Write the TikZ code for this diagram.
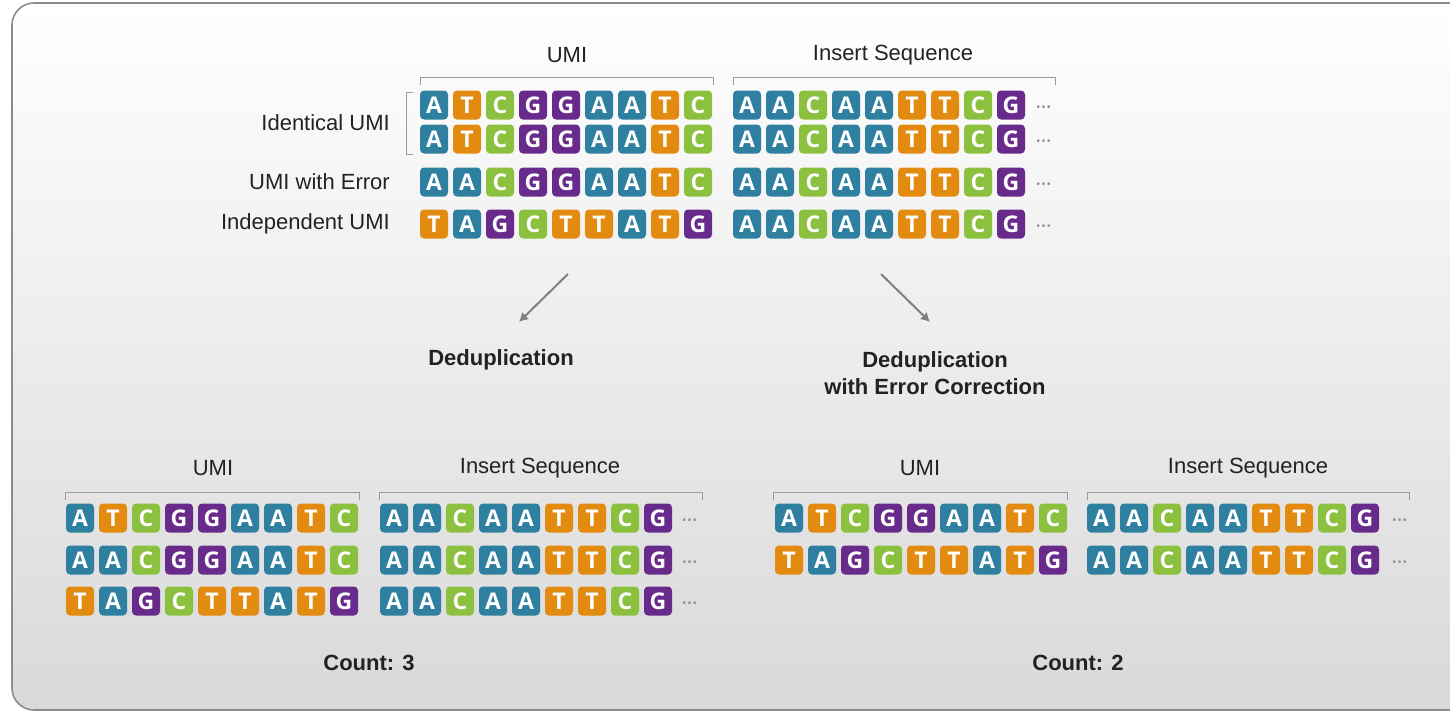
\documentclass[tikz,border=0pt]{standalone}
\usepackage{fontspec}
\setmainfont{Liberation Sans}
\newfontfamily\tilefont{Open Sans}
\usetikzlibrary{arrows.meta}
\definecolor{cA}{HTML}{2E7FA0}
\definecolor{cT}{HTML}{E38B10}
\definecolor{cC}{HTML}{8CC13F}
\definecolor{cG}{HTML}{682B8C}
\definecolor{txt}{HTML}{222222}
\definecolor{brk}{HTML}{9A9A9A}
\definecolor{dotc}{HTML}{8A8A8A}
\definecolor{arrc}{HTML}{808080}
\definecolor{bord}{HTML}{8C8C8C}
\definecolor{bgb}{HTML}{D9D9D9}
\tikzset{
  tile/.style={minimum width=28pt, minimum height=29pt, inner sep=0pt,
    rounded corners=4pt, text=white, font=\tilefont\bfseries\fontsize{23}{23}\selectfont},
  lbl/.style={font=\fontsize{22}{26}\selectfont, text=txt, inner sep=0pt},
  blbl/.style={font=\bfseries\fontsize{22}{27}\selectfont, text=txt, inner sep=0pt},
  brk/.style={draw=brk, line width=1pt},
  dotsnode/.style={text=dotc, font=\bfseries\fontsize{16}{16}\selectfont, inner sep=0pt, yshift=-4pt},
  arr/.style={draw=arrc, line width=2pt, -{Latex[length=9pt,width=10pt]}}
}
\newcommand\tilerow[4]{%
  \foreach \L [count=\i] in {#4}{%
    \node[tile, fill=c\L] (#1-\i) at ({#2+(\i-1)*33},{#3}) {\L};}%
}
\begin{document}
\begin{tikzpicture}[x=1pt,y=-1pt]
\useasboundingbox (0,0) rectangle (1450,712);
\shadedraw[top color=white, bottom color=bgb, draw=bord, line width=1.6pt, rounded corners=22pt]
  (12,3) rectangle (1490,710);

% ---------- top ----------
\node[lbl] (tumi) at (567,55) {UMI};
\node[lbl] (tins) at (893,55) {Insert Sequence};
\draw[brk] (420,85) -- (420,77) -- (713,77) -- (713,85);
\draw[brk] (733,85) -- (733,77) -- (1055,77) -- (1055,85);
\draw[brk] (413,92) -- (406,92) -- (406,154) -- (413,154);

\node[lbl, anchor=east] (lid) at (390,123) {Identical UMI};
\node[lbl, anchor=east] (ler) at (390,182) {UMI with Error};
\node[lbl, anchor=east] (lin) at (390,224) {Independent UMI};

\tilerow{ua}{434}{105}{A,T,C,G,G,A,A,T,C}
\tilerow{ub}{434}{139}{A,T,C,G,G,A,A,T,C}
\tilerow{uc}{434}{182}{A,A,C,G,G,A,A,T,C}
\tilerow{ud}{434}{224}{T,A,G,C,T,T,A,T,G}
\tilerow{ia}{747}{105}{A,A,C,A,A,T,T,C,G}
\tilerow{ib}{747}{139}{A,A,C,A,A,T,T,C,G}
\tilerow{ic}{747}{182}{A,A,C,A,A,T,T,C,G}
\tilerow{id}{747}{224}{A,A,C,A,A,T,T,C,G}
\node[dotsnode] (da) at (1044,105) {···};
\node[dotsnode] (db) at (1044,139) {···};
\node[dotsnode] (dc) at (1044,182) {···};
\node[dotsnode] (dd) at (1044,224) {···};

% ---------- arrows ----------
\coordinate (a1s) at (568,274);
\coordinate (a1e) at (519,322);
\coordinate (a2s) at (881,274);
\coordinate (a2e) at (930,322);
\draw[arr] (a1s) -- (a1e);
\draw[arr] (a2s) -- (a2e);

\node[blbl] (dedup) at (501,360) {Deduplication};
\node[blbl, align=center] (dedupec) at (935,373) {Deduplication\\with Error Correction};

% ---------- bottom left ----------
\node[lbl] (blumi) at (213,468) {UMI};
\node[lbl] (blins) at (540,468) {Insert Sequence};
\draw[brk] (65,500) -- (65,492) -- (359,492) -- (359,500);
\draw[brk] (379,500) -- (379,492) -- (702,492) -- (702,500);
\tilerow{la}{80}{518}{A,T,C,G,G,A,A,T,C}
\tilerow{lb}{80}{560}{A,A,C,G,G,A,A,T,C}
\tilerow{lc}{80}{601}{T,A,G,C,T,T,A,T,G}
\tilerow{lia}{394}{518}{A,A,C,A,A,T,T,C,G}
\tilerow{lib}{394}{560}{A,A,C,A,A,T,T,C,G}
\tilerow{lic}{394}{601}{A,A,C,A,A,T,T,C,G}
\node[dotsnode] (lda) at (690,518) {···};
\node[dotsnode] (ldb) at (690,560) {···};
\node[dotsnode] (ldc) at (690,601) {···};
\node[blbl] (cnt3) at (369,663) {Count: 3};

% ---------- bottom right ----------
\node[lbl] (brumi) at (920,468) {UMI};
\node[lbl] (brins) at (1248,468) {Insert Sequence};
\draw[brk] (773,500) -- (773,492) -- (1067,492) -- (1067,500);
\draw[brk] (1087,500) -- (1087,492) -- (1409,492) -- (1409,500);
\tilerow{ra}{789}{518}{A,T,C,G,G,A,A,T,C}
\tilerow{rb}{789}{560}{T,A,G,C,T,T,A,T,G}
\tilerow{ria}{1101}{518}{A,A,C,A,A,T,T,C,G}
\tilerow{rib}{1101}{560}{A,A,C,A,A,T,T,C,G}
\node[dotsnode] (rda) at (1400,518) {···};
\node[dotsnode] (rdb) at (1400,560) {···};
\node[blbl] (cnt2) at (1078,663) {Count: 2};
\end{tikzpicture}
\end{document}
